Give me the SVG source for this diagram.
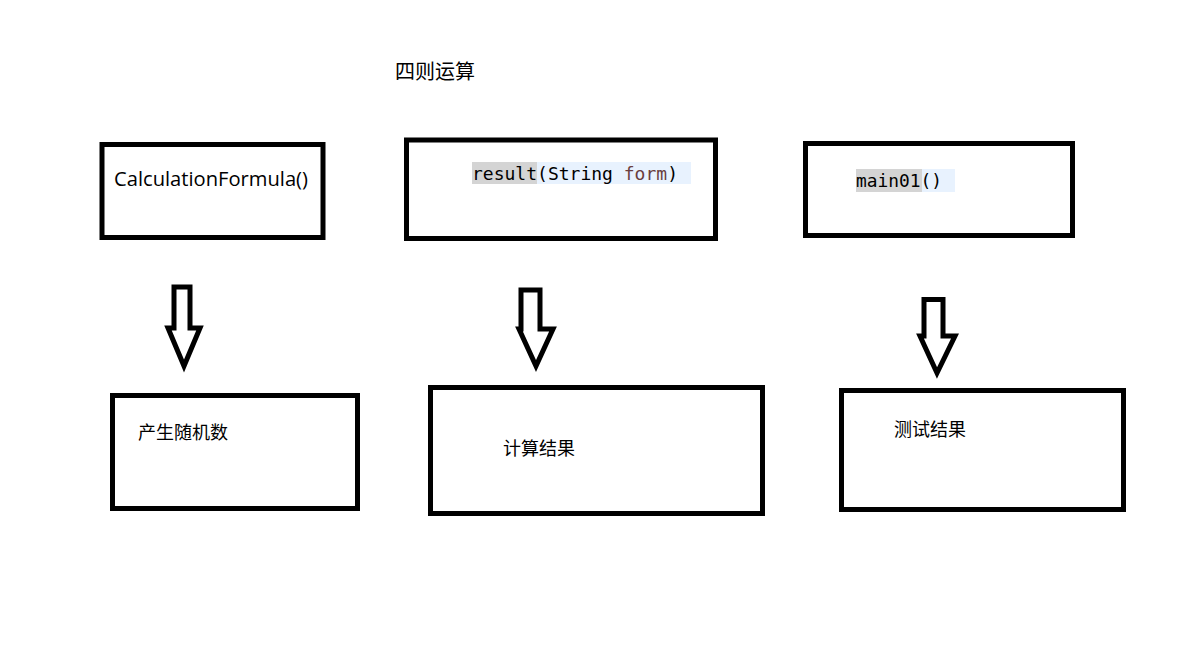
<svg xmlns="http://www.w3.org/2000/svg" width="1184" height="652" viewBox="0 0 1184 652">
<style>
.box{fill:#fff;stroke:#000;stroke-width:5}
.arrow{fill:#fff;stroke:#000;stroke-width:5;stroke-linejoin:miter}
.cjk{font-family:"Microsoft YaHei","Noto Sans CJK SC",sans-serif;fill:#000}
.lat{font-family:"Open Sans","Noto Sans",sans-serif;fill:#000}
.mono{font-family:"DejaVu Sans Mono","Liberation Mono",monospace;font-size:18px;fill:#000}
</style>
<rect width="1184" height="652" fill="#fff"/>
<text class="cjk" x="395" y="79" font-size="20">四则运算</text>
<g id="node-calc">
<rect class="box" x="102" y="144.5" width="221" height="93"/>
<text class="lat" x="114" y="186" font-size="20" textLength="194" lengthAdjust="spacingAndGlyphs">CalculationFormula()</text>
</g>
<g id="node-result">
<rect class="box" x="406.5" y="140" width="309" height="98.5"/>
<rect x="472" y="162" width="219" height="22" fill="#e8f2fe"/>
<rect x="472" y="162" width="65" height="22" fill="#d4d4d4"/>
<text class="mono" x="472" y="180" textLength="206" lengthAdjust="spacingAndGlyphs">result(String <tspan fill="#6a3e3e">form</tspan>)</text>
</g>
<g id="node-main">
<rect class="box" x="805.5" y="143.5" width="267" height="92"/>
<rect x="856" y="169" width="99" height="23" fill="#e8f2fe"/>
<rect x="856" y="169" width="66" height="23" fill="#d4d4d4"/>
<text class="mono" x="856" y="187" textLength="86" lengthAdjust="spacingAndGlyphs">main01()</text>
</g>
<g id="node-random">
<rect class="box" x="112.5" y="395.5" width="245" height="113"/>
<text class="cjk" x="138" y="439" font-size="18">产生随机数</text>
</g>
<g id="node-compute">
<rect class="box" x="430.5" y="387.5" width="332" height="126"/>
<text class="cjk" x="503" y="455" font-size="18">计算结果</text>
</g>
<g id="node-test">
<rect class="box" x="841.5" y="390.5" width="282" height="119"/>
<text class="cjk" x="894" y="436" font-size="18">测试结果</text>
</g>
<g id="connectors">
<polygon class="arrow" points="174,287 190,287 190,328 200,328 184,366 168,328 174,328"/>
<polygon class="arrow" points="521,290 540,290 540,329 553,329 536,366 519,329 521,329"/>
<polygon class="arrow" points="924,299.5 943,299.5 943,336 955,336 937,373 920,336 924,336"/>
</g>
</svg>
